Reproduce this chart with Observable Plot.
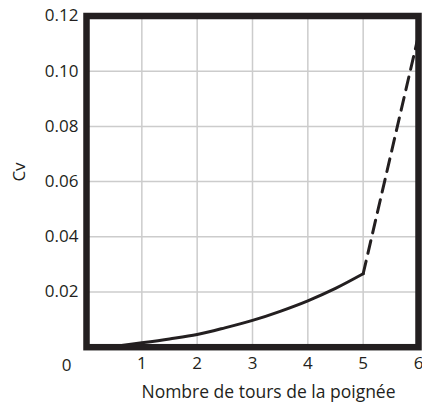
<!DOCTYPE html>
<html>
<head>
<meta charset="utf-8">
<script src="https://cdn.jsdelivr.net/npm/d3@7"></script>
<script src="https://cdn.jsdelivr.net/npm/@observablehq/plot@0.6"></script>
<style>
  html, body { margin: 0; padding: 0; background: #fff; }
</style>
</head>
<body>
<div id="chart"></div>
<script>
const xTicks = [1, 2, 3, 4, 5, 6];
const yTicks = [0.02, 0.04, 0.06, 0.08, 0.10, 0.12];
const xGrid = [1, 2, 3, 4, 5];
const yGrid = [0.02, 0.04, 0.06, 0.08, 0.10];

const solidX = [0.5, 1, 1.5, 2, 2.5, 3, 3.5, 4, 4.5, 5];
const solidY = [0.0003, 0.0016, 0.003, 0.0046, 0.007, 0.0097, 0.013, 0.0168, 0.0213, 0.0266];
const dashX = [5, 6];
const dashY = [0.0266, 0.113];

const solid = solidX.map((x, i) => ({x, y: solidY[i]}));
const dashed = dashX.map((x, i) => ({x, y: dashY[i]}));

const ink = "#231f20";

const chart = Plot.plot({
  width: 422,
  height: 402,
  marginLeft: 86,
  marginRight: 4,
  marginTop: 15.5,
  marginBottom: 55.3,
  style: {fontFamily: "Open Sans", fontSize: "17px", color: ink, background: "#fff"},
  x: {domain: [0, 6]},
  y: {domain: [0, 0.12]},
  marks: [
    Plot.ruleX(xGrid, {stroke: "#cccccc", strokeWidth: 1.5}),
    Plot.ruleY(yGrid, {stroke: "#cccccc", strokeWidth: 1.5}),
    Plot.line(solid, {x: "x", y: "y", curve: "monotone-x", stroke: ink, strokeWidth: 3, clip: "frame"}),
    Plot.line(dashed, {x: "x", y: "y", stroke: ink, strokeWidth: 3, strokeDasharray: "13,8", clip: "frame"}),
    Plot.axisX({ticks: xTicks, tickSize: 0, tickPadding: 10, tickFormat: d3.format("d"), label: null, fill: ink, fontSize: 17}),
    Plot.axisY({ticks: yTicks, tickSize: 0, tickPadding: 8, tickFormat: d3.format(".2f"), label: null, fill: ink, fontSize: 17}),
    Plot.text(["0"], {x: () => 0, y: () => 0, dx: -20, dy: 18, fill: ink, fontSize: 17}),
    Plot.text(["Nombre de tours de la poignée"], {frameAnchor: "bottom", lineAnchor: "middle", dx: 16, dy: 45, fill: ink, fontSize: 17.5}),
    Plot.text(["Cv"], {frameAnchor: "left", dx: -67, rotate: -90, fill: ink, fontSize: 17}),
    Plot.frame({stroke: ink, strokeWidth: 6.5})
  ]
});
document.getElementById("chart").appendChild(chart);
</script>
</body>
</html>
